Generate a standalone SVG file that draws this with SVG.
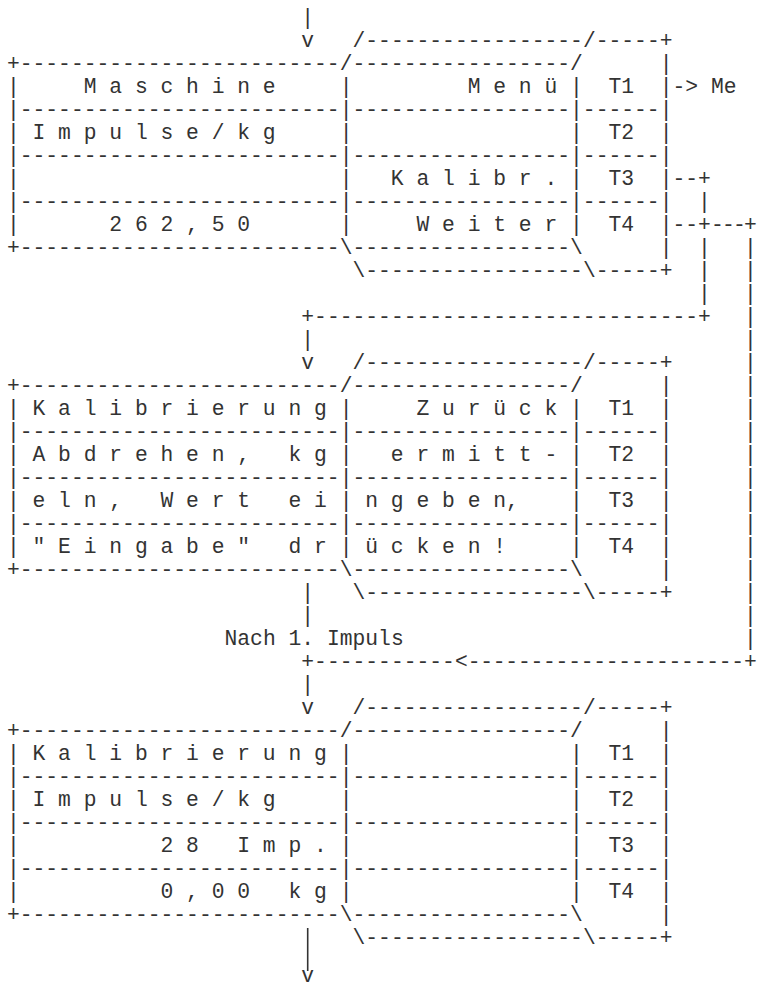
<svg xmlns="http://www.w3.org/2000/svg" width="757" height="988" viewBox="0 0 757 988" xml:space="preserve">
<style>
text { font-family: "Liberation Mono", "Courier New", monospace; font-size: 21.333px; fill: #333; white-space: pre; }
.wire { stroke: #333; stroke-width: 1.6; fill: none; }
</style>
<rect x="0" y="0" width="757" height="988" fill="#ffffff"/>
<g id="node-maschine">
<text x="352.5" y="47.3">/-----------------/-----+</text>
<text x="6.9" y="70.3">+-------------------------/-----------------/      |</text>
<text x="6.9" y="93.3">|     M a s c h i n e     |         M e n ü |  T1  |</text>
<text x="6.9" y="116.3">|-------------------------|-----------------|------|</text>
<text x="6.9" y="139.3">| I m p u l s e / k g     |                 |  T2  |</text>
<text x="6.9" y="162.3">|-------------------------|-----------------|------|</text>
<text x="6.9" y="185.3">|                         |   K a l i b r . |  T3  |</text>
<text x="6.9" y="208.3">|-------------------------|-----------------|------|</text>
<text x="6.9" y="231.3">|       2 6 2 , 5 0       |     W e i t e r |  T4  |</text>
<text x="6.9" y="254.3">+-------------------------\-----------------\      |</text>
<text x="352.5" y="277.3">\-----------------\-----+</text>
</g>
<g id="node-kalibrierung-anleitung">
<text x="352.5" y="369.3">/-----------------/-----+</text>
<text x="6.9" y="392.3">+-------------------------/-----------------/      |</text>
<text x="6.9" y="415.3">| K a l i b r i e r u n g |     Z u r ü c k |  T1  |</text>
<text x="6.9" y="438.3">|-------------------------|-----------------|------|</text>
<text x="6.9" y="461.3">| A b d r e h e n ,   k g |   e r m i t t - |  T2  |</text>
<text x="6.9" y="484.3">|-------------------------|-----------------|------|</text>
<text x="6.9" y="507.3">| e l n ,   W e r t   e i | n g e b e n,    |  T3  |</text>
<text x="6.9" y="530.3">|-------------------------|-----------------|------|</text>
<text x="6.9" y="553.3">| " E i n g a b e "   d r | ü c k e n !     |  T4  |</text>
<text x="6.9" y="576.3">+-------------------------\-----------------\      |</text>
<text x="352.5" y="599.3">\-----------------\-----+</text>
</g>
<g id="node-kalibrierung-messung">
<text x="352.5" y="714.3">/-----------------/-----+</text>
<text x="6.9" y="737.3">+-------------------------/-----------------/      |</text>
<text x="6.9" y="760.3">| K a l i b r i e r u n g |                 |  T1  |</text>
<text x="6.9" y="783.3">|-------------------------|-----------------|------|</text>
<text x="6.9" y="806.3">| I m p u l s e / k g     |                 |  T2  |</text>
<text x="6.9" y="829.3">|-------------------------|-----------------|------|</text>
<text x="6.9" y="852.3">|           2 8   I m p . |                 |  T3  |</text>
<text x="6.9" y="875.3">|-------------------------|-----------------|------|</text>
<text x="6.9" y="898.3">|           0 , 0 0   k g |                 |  T4  |</text>
<text x="6.9" y="921.3">+-------------------------\-----------------\      |</text>
<text x="352.5" y="944.3">\-----------------\-----+</text>
</g>
<g id="connectors">
<text x="301.3" y="24.3">|</text>
<text x="301.3" y="47.3">v</text>
<text x="672.5" y="93.3">-&gt; Me</text>
<text x="672.5" y="185.3">--+</text>
<text x="698.1" y="208.3">|</text>
<text x="672.5" y="231.3">--+</text>
<text x="710.9" y="231.3" textLength="45.8" lengthAdjust="spacing">---+</text>
<text x="698.1" y="254.3">|</text>
<text x="698.1" y="277.3">|</text>
<text x="698.1" y="300.3">|</text>
<text x="301.3" y="323.3">+------------------------------+</text>
<text x="301.3" y="346.3">|</text>
<text x="301.3" y="369.3">v</text>
<text x="301.3" y="599.3">|</text>
<text x="301.3" y="622.3">|</text>
<text x="301.3" y="668.3">+-----------&lt;</text>
<text x="467.7" y="668.3" textLength="289" lengthAdjust="spacing">----------------------+</text>
<text x="301.3" y="691.3">|</text>
<text x="301.3" y="714.3">v</text>
<line class="wire" x1="307.7" y1="928" x2="307.7" y2="971"/>
<text x="301.3" y="981.5">v</text>
<text x="743.9" y="254.3">|</text>
<text x="743.9" y="277.3">|</text>
<text x="743.9" y="300.3">|</text>
<text x="743.9" y="323.3">|</text>
<text x="743.9" y="346.3">|</text>
<text x="743.9" y="369.3">|</text>
<text x="743.9" y="392.3">|</text>
<text x="743.9" y="415.3">|</text>
<text x="743.9" y="438.3">|</text>
<text x="743.9" y="461.3">|</text>
<text x="743.9" y="484.3">|</text>
<text x="743.9" y="507.3">|</text>
<text x="743.9" y="530.3">|</text>
<text x="743.9" y="553.3">|</text>
<text x="743.9" y="576.3">|</text>
<text x="743.9" y="599.3">|</text>
<text x="743.9" y="622.3">|</text>
<text x="743.9" y="645.3">|</text>
</g>
<g id="label-nach-impuls">
<text x="224.5" y="645.3">Nach 1. Impuls</text>
</g>
</svg>
